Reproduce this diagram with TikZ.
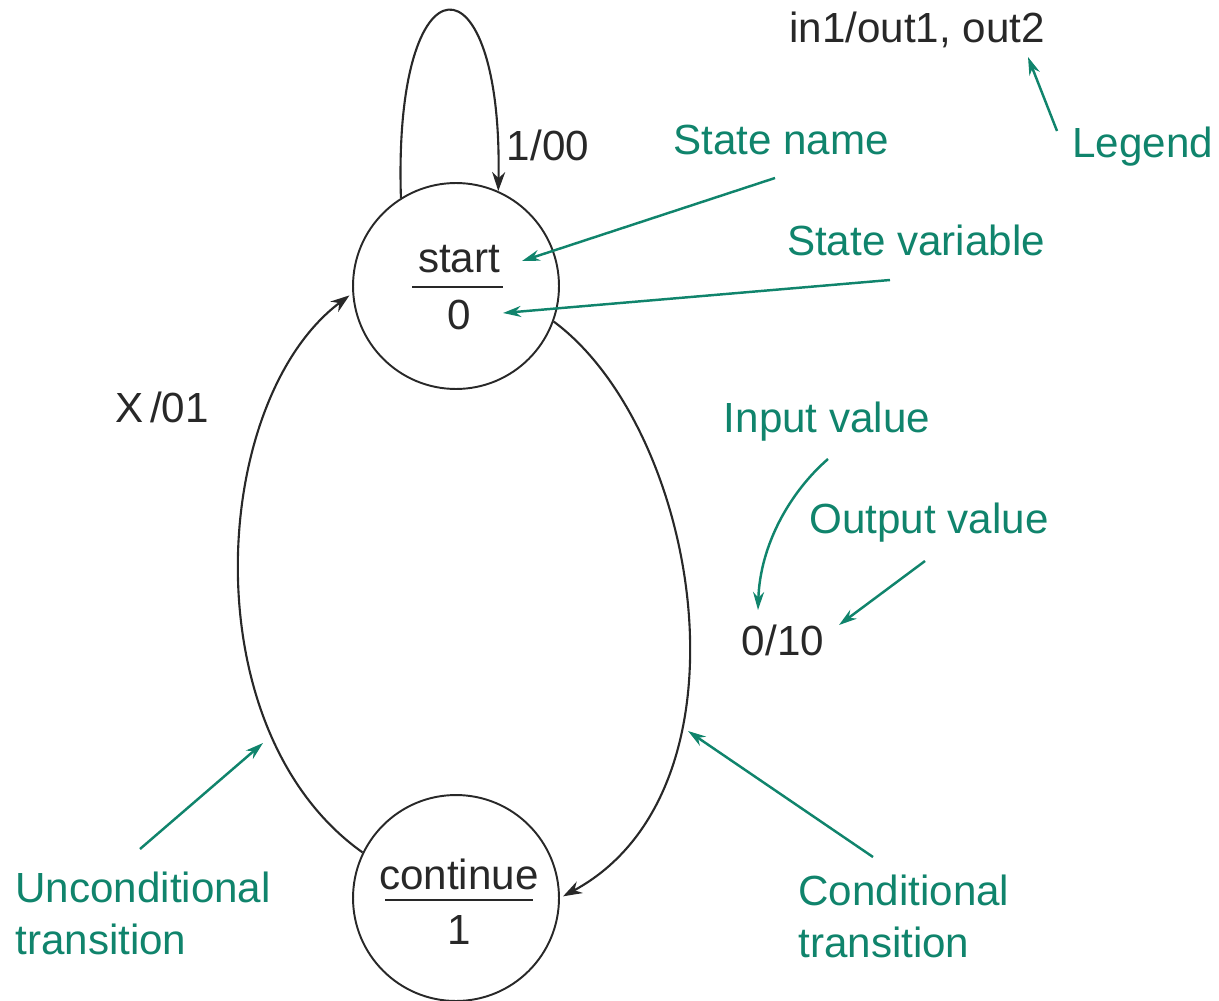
\documentclass[tikz,border=0pt]{standalone}
\usepackage{fontspec}
\setmainfont{Liberation Sans}
\usetikzlibrary{arrows.meta,positioning}
\definecolor{notegreen}{RGB}{16,132,108}
\definecolor{inkgray}{RGB}{40,40,40}

\begin{document}
\begin{tikzpicture}[
            x=0.02cm, y=-0.02cm,
            state/.style = {circle, draw=inkgray, line width=1.1pt, minimum size=4.12cm, inner sep=0pt},
            txt/.style = {font=\fontsize{24}{29.5}\selectfont, text=inkgray, inner sep=0pt},
            note/.style = {font=\fontsize{24}{29.5}\selectfont, text=notegreen, inner sep=0pt, align=left},
            trans/.style = {draw=inkgray, line width=1.2pt, -{Stealth[length=0.38cm, width=0.26cm]}},
            pointer/.style = {draw=notegreen, line width=1.4pt, -{Stealth[length=0.36cm, width=0.22cm]}},
            divider/.style = {draw=inkgray, line width=1.3pt}
        ]
        \useasboundingbox (0,0) rectangle (1219,1000);

        % Estados
        \node [state] (start) at (456,286) {};
        \node [txt] (startname) at (459,259) {start};
        \node [txt] (startvar) at (459,315) {0};
        \draw [divider] ([xshift=-0.88cm, yshift=-0.02cm]start.center) -- ([xshift=0.94cm, yshift=-0.02cm]start.center);

        \node [state] (cont) at (456,898) {};
        \node [txt] (contname) at (459,874) {continue};
        \node [txt] (contvar) at (459,930) {1};
        \draw [divider] ([xshift=-1.42cm, yshift=-0.04cm]cont.center) -- ([xshift=1.54cm, yshift=-0.04cm]cont.center);

        % Transiciones
        \draw [trans] (start.122) .. controls (393,-50) and (503,-50) .. (start.66);
        \draw [trans, shorten >=2pt] (cont.154) .. controls (190,730) and (210,400) .. (start.184);
        \draw [trans, shorten >=2pt] (start.-20) .. controls (700,430) and (760,790) .. (cont.0);

        % Etiquetas de transiciones
        \node [txt] (selflabel) at (548,145) {1/00};
        \node [txt] (uncondlabel) at (162,407) {X\,/01};
        \node [txt] (condlabel) at (783,640) {0/10};
        \node [txt] (legend) at (917,30) {in1/out1, out2};

        % Notas explicativas
        \node [note] (statename) at (781,140) {State name};
        \node [note] (statevar) at (916,240) {State variable};
        \node [note, anchor=west] (legendnote) at (1072,147) {Legend};
        \node [note] (inputnote) at (827,422) {Input value};
        \node [note] (outputnote) at (929,523) {Output value};
        \node [note, anchor=west] (uncondnote) at (15,913) {Unconditional\\transition};
        \node [note, anchor=west] (condnote) at (798,916) {Conditional\\transition};

        \coordinate (namefoot) at (775,178);
        \coordinate (nametip) at (522,261);
        \coordinate (varfoot) at (890,280);
        \coordinate (vartip) at (503,313);
        \coordinate (legendfoot) at (1057,131);
        \coordinate (legendtip) at (1028,57);
        \coordinate (inputfoot) at (828,459);
        \coordinate (inputtip) at (758,610);
        \coordinate (outputfoot) at (925,561);
        \coordinate (outputtip) at (839,625);
        \coordinate (uncondfoot) at (140,849);
        \coordinate (uncondtip) at (263,743);
        \coordinate (condfoot) at (873,857);
        \coordinate (condtip) at (688,731);

        % Flechas de las notas
        \draw [pointer] (namefoot) -- (nametip);
        \draw [pointer] (varfoot) -- (vartip);
        \draw [pointer] (legendfoot) -- (legendtip);
        \draw [pointer] (inputfoot) .. controls (790,492) and (760,545) .. (inputtip);
        \draw [pointer] (outputfoot) -- (outputtip);
        \draw [pointer] (uncondfoot) -- (uncondtip);
        \draw [pointer] (condfoot) -- (condtip);

    \end{tikzpicture}
\end{document}
